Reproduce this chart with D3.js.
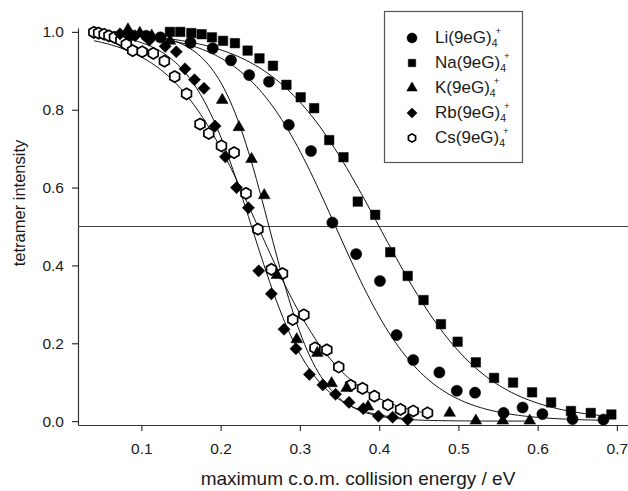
<!DOCTYPE html>
<html>
<head>
<meta charset="utf-8">
<script src="https://d3js.org/d3.v7.min.js"></script>
<style>
  body { margin: 0; background: #fff; }
  svg { display: block; font-family: "Liberation Sans", Arial, sans-serif; }
</style>
</head>
<body>
<div id="chart"></div>
<script>
// series values: [energy eV, tetramer intensity]
const liData = [[0.086,0.992],[0.106,0.990],[0.124,0.986],[0.162,0.972],[0.190,0.958],[0.213,0.927],[0.236,0.889],[0.261,0.872],[0.286,0.761],[0.314,0.694],[0.341,0.510],[0.371,0.429],[0.401,0.360],[0.422,0.221],[0.443,0.157],[0.476,0.125],[0.498,0.078],[0.521,0.073],[0.557,0.021],[0.581,0.035],[0.606,0.018],[0.644,0.005],[0.683,0.004]];
const naData = [[0.136,1.0],[0.149,1.0],[0.163,0.997],[0.176,0.994],[0.189,0.986],[0.203,0.977],[0.218,0.971],[0.234,0.952],[0.249,0.932],[0.266,0.913],[0.283,0.864],[0.301,0.832],[0.318,0.804],[0.337,0.722],[0.355,0.678],[0.373,0.564],[0.395,0.530],[0.414,0.434],[0.436,0.373],[0.456,0.311],[0.478,0.249],[0.499,0.204],[0.522,0.151],[0.545,0.111],[0.569,0.099],[0.593,0.074],[0.617,0.048],[0.642,0.026],[0.667,0.021],[0.693,0.017]];
const kData = [[0.083,1.006],[0.098,0.997],[0.113,0.990],[0.136,0.977],[0.202,0.825],[0.223,0.755],[0.239,0.673],[0.255,0.580],[0.271,0.375],[0.296,0.210],[0.322,0.175],[0.340,0.097],[0.359,0.085],[0.386,0.037],[0.489,0.021],[0.522,0.001],[0.556,0.001],[0.590,0.001]];
const rbData = [[0.073,0.995],[0.092,0.990],[0.110,0.979],[0.130,0.963],[0.144,0.949],[0.155,0.905],[0.167,0.877],[0.179,0.855],[0.193,0.758],[0.206,0.679],[0.220,0.600],[0.235,0.548],[0.248,0.386],[0.264,0.327],[0.280,0.236],[0.295,0.186],[0.312,0.120],[0.329,0.093],[0.345,0.069],[0.362,0.048],[0.380,0.032],[0.399,0.013],[0.417,0.010],[0.436,0.004]];
const csData = [[0.040,0.999],[0.046,0.997],[0.053,0.994],[0.059,0.990],[0.066,0.986],[0.074,0.978],[0.081,0.968],[0.089,0.952],[0.101,0.949],[0.115,0.945],[0.129,0.925],[0.142,0.885],[0.157,0.841],[0.174,0.763],[0.185,0.739],[0.201,0.707],[0.217,0.690],[0.232,0.585],[0.247,0.493],[0.264,0.390],[0.278,0.379],[0.291,0.261],[0.305,0.273],[0.319,0.188],[0.334,0.183],[0.349,0.139],[0.364,0.092],[0.379,0.084],[0.394,0.064],[0.411,0.042],[0.427,0.030],[0.443,0.026],[0.461,0.021]];

const seriesNames = ["Li", "Na", "K", "Rb", "Cs"];
// sigmoid fit lines: midpoint and width estimated from the drawn curves
const fitMid = [0.345, 0.400, 0.261, 0.239, 0.247];
const fitWidth = [0.055, 0.066, 0.032, 0.039, 0.055];

const xTicks = [0.1, 0.2, 0.3, 0.4, 0.5, 0.6, 0.7];
const yTicks = [0.0, 0.2, 0.4, 0.6, 0.8, 1.0];
const refLevel = 0.5;

const allData = [liData, naData, kData, rbData, csData];

const width = 628, height = 491;
const svg = d3.select("#chart").append("svg")
  .attr("width", width)
  .attr("height", height);

const x = d3.scaleLinear().domain([0.02, 0.714]).range([78, 628]);
const y = d3.scaleLinear().domain([-0.01, 1.01]).range([425, 28]);

// axes
const xAxis = svg.append("g")
  .attr("transform", `translate(0,${y.range()[0]})`)
  .call(d3.axisBottom(x).tickValues(xTicks).tickFormat(d3.format(".1f")).tickSize(6).tickSizeOuter(0).tickPadding(12));
const yAxis = svg.append("g")
  .attr("transform", `translate(${x.range()[0]},0)`)
  .call(d3.axisLeft(y).tickValues(yTicks).tickFormat(d3.format(".1f")).tickSize(6).tickSizeOuter(0).tickPadding(8));
[xAxis, yAxis].forEach(g => {
  g.selectAll("path, line").attr("stroke", "#333").attr("stroke-width", 1.2);
  g.selectAll("text").attr("font-size", 15.5).attr("fill", "#1a1a1a")
    .style("font-family", '"Liberation Sans", Arial, sans-serif');
});

svg.append("text")
  .attr("x", 358).attr("y", 485)
  .attr("text-anchor", "middle")
  .attr("font-size", 19).attr("fill", "#1a1a1a")
  .text("maximum c.o.m. collision energy / eV");

svg.append("text")
  .attr("transform", "translate(25,203) rotate(-90)")
  .attr("text-anchor", "middle")
  .attr("font-size", 16.5).attr("fill", "#1a1a1a")
  .text("tetramer intensity");

// 0.5 reference line
svg.append("line")
  .attr("x1", x.range()[0]).attr("x2", x.range()[1])
  .attr("y1", y(refLevel)).attr("y2", y(refLevel))
  .attr("stroke", "#444").attr("stroke-width", 1.2);

// fit curves
const line = d3.line().x(d => x(d[0])).y(d => y(d[1])).curve(d3.curveBasis);
allData.forEach((data, i) => {
  const x0 = d3.min(data, d => d[0]), x1 = d3.max(data, d => d[0]);
  const pts = d3.range(x0, x1 + 0.0001, (x1 - x0) / 150)
    .map(e => [e, 1 / (1 + Math.exp((e - fitMid[i]) / fitWidth[i]))]);
  svg.append("path")
    .attr("d", line(pts))
    .attr("fill", "none")
    .attr("stroke", "#111")
    .attr("stroke-width", 1);
});

// hexagon symbol (pointy top)
const symbolHexagon = {
  draw(context, size) {
    const r = Math.sqrt(size / (1.5 * Math.sqrt(3)));
    for (let k = 0; k < 6; k++) {
      const a = Math.PI / 2 + k * Math.PI / 3;
      const px = r * Math.cos(a), py = r * Math.sin(a);
      if (k === 0) context.moveTo(px, py); else context.lineTo(px, py);
    }
    context.closePath();
  }
};

const markerStyles = [
  { type: d3.symbolCircle, size: 98, rot: 0, fill: "#000" },
  { type: d3.symbolSquare, size: 90, rot: 0, fill: "#000" },
  { type: d3.symbolTriangle, size: 60, rot: 0, fill: "#000" },
  { type: d3.symbolSquare, size: 74, rot: 45, fill: "#000" },
  { type: symbolHexagon, size: 82, rot: 0, fill: "#fff" }
];

// draw hexagons first, then the filled markers on top (Li, Na drawn last)
const order = [4, 2, 3, 0, 1];
order.forEach(i => {
  const m = markerStyles[i];
  svg.append("g").selectAll("path")
    .data(allData[i])
    .join("path")
    .attr("transform", d => `translate(${x(d[0])},${y(d[1])}) rotate(${m.rot})`)
    .attr("d", d3.symbol().type(m.type).size(m.size))
    .attr("fill", m.fill)
    .attr("stroke", "#000")
    .attr("stroke-width", i === 4 ? 1.7 : 0.5);
});

// legend
const legend = svg.append("g");
legend.append("rect")
  .attr("x", 384.5).attr("y", 11.5)
  .attr("width", 138).attr("height", 151)
  .attr("fill", "#fff").attr("stroke", "#555").attr("stroke-width", 1.2);

const legendSizes = [78, 56, 48, 52, 44];
seriesNames.forEach((name, i) => {
  const cy = 38 + i * 25;
  const m = markerStyles[i];
  legend.append("path")
    .attr("transform", `translate(412,${cy}) rotate(${m.rot})`)
    .attr("d", d3.symbol().type(m.type).size(legendSizes[i]))
    .attr("fill", m.fill).attr("stroke", "#000")
    .attr("stroke-width", i === 4 ? 1.7 : 0.5);
  const t = legend.append("text")
    .attr("x", 435).attr("y", cy + 5)
    .attr("font-size", 17).attr("fill", "#1a1a1a");
  t.append("tspan").text(name + "(9eG)");
  t.append("tspan").attr("font-size", 10.5).attr("dy", 4).text("4");
  t.append("tspan").attr("font-size", 9.5).attr("dx", -2).attr("dy", -13).text("+");
});
</script>
</body>
</html>
